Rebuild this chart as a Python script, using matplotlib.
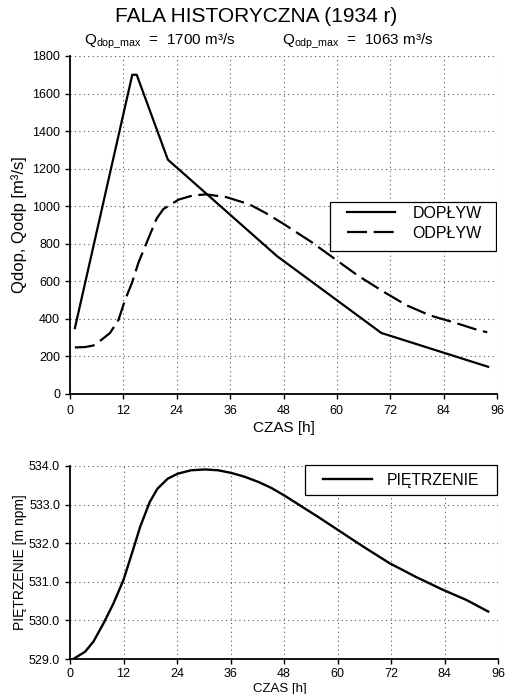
import numpy as np
import matplotlib
matplotlib.use("Agg")
import matplotlib.pyplot as plt
from matplotlib.patches import Rectangle
from matplotlib.ticker import FormatStrFormatter

plt.rcParams['font.family'] = ['Liberation Sans', 'DejaVu Sans']
plt.rcParams['mathtext.fontset'] = 'custom'
plt.rcParams['mathtext.rm'] = 'Liberation Sans'
plt.rcParams['mathtext.it'] = 'Liberation Sans'

# inflow hydrograph (DOPLYW)
t_dop = [1.1, 14, 15, 22, 46.5, 70, 94]
q_dop = [351, 1700, 1700, 1248, 735, 325, 145]

# outflow hydrograph (ODPLYW)
t_odp = [1.1, 3.4, 5.25, 7.1, 9.0, 10.9, 12.4, 13.9, 15.4, 18, 19.5, 21, 24.4,
         27.7, 30.7, 35.2, 39, 40.9, 43.9, 48, 54.3, 59.5, 64.7, 70.6, 75.8,
         81.0, 86.2, 92.2, 93.8]
q_odp = [248, 250, 258, 289, 325, 395, 502, 590, 700, 850, 935, 985, 1035,
         1058, 1063, 1048, 1020, 1003, 965, 906, 809, 720, 631, 543, 471,
         418, 382, 337, 329]

# water level (PIETRZENIE)
t_h = [0.75, 3.4, 5.25, 7.5, 9.75, 12.0, 13.9, 15.75, 17.9, 19.6, 21.9, 24.15,
       27.2, 30.2, 33.2, 36.2, 39.2, 42.2, 45.2, 48.3, 51.3, 55.8, 60.0, 65.8,
       71.7, 77.7, 83.7, 88.9, 93.8]
h = [529.0, 529.19, 529.45, 529.92, 530.44, 531.05, 531.74, 532.43, 533.07,
     533.41, 533.67, 533.80, 533.89, 533.91, 533.89, 533.82, 533.72, 533.59,
     533.43, 533.22, 533.0, 532.67, 532.35, 531.91, 531.48, 531.12,
     530.79, 530.53, 530.23]

xticks = np.arange(0, 97, 12)

W, H = 513, 694
fig = plt.figure(figsize=(W / 100, H / 100), dpi=100)


def style(ax):
    ax.spines['top'].set_visible(False)
    ax.spines['right'].set_visible(False)
    ax.spines['left'].set_linewidth(1.3)
    ax.spines['bottom'].set_linewidth(1.3)
    ax.grid(True, linestyle=(0, (1, 3)), color='#555555', linewidth=0.8)
    ax.tick_params(direction='out', length=3.6, width=1, colors='black',
                   pad=3.5, labelsize=9)
    ax.set_xlim(0, 96)
    ax.set_xticks(xticks)


# ---- top chart
ax1 = fig.add_axes([70 / W, 1 - 394 / H, 427 / W, 338 / H])
style(ax1)
ax1.plot(t_dop, q_dop, 'k-', lw=1.6, solid_joinstyle='round', label='DOPŁYW')
ax1.plot(t_odp, q_odp, 'k', lw=1.6, linestyle=(0, (9, 3)),
         dash_joinstyle='round', label='ODPŁYW')
ax1.set_ylim(0, 1800)
ax1.set_yticks(np.arange(0, 1801, 200))
ax1.tick_params(axis='x', pad=4.5)
ax1.set_xlabel('CZAS [h]', fontsize=11, labelpad=3)
ax1.set_ylabel('Qdop, Qodp [m³/s]', fontsize=12, labelpad=4)
ax1.add_patch(Rectangle((0.609, 0.424), 0.389, 0.145, transform=ax1.transAxes,
                        facecolor='white', edgecolor='black', lw=0.9,
                        zorder=4))
leg = ax1.legend(loc='upper left', bbox_to_anchor=(0.649, 0.557),
                 fontsize=11.5, frameon=False, handlelength=3.0,
                 handletextpad=1.1, borderpad=0, borderaxespad=0,
                 labelspacing=0.3)
leg.set_zorder(5)

fig.text(256 / W, 1 - 22 / H, 'FALA HISTORYCZNA (1934 r)', ha='center',
         va='baseline', fontsize=15)
fig.text(160 / W, 1 - 45 / H, r'Q$_{\mathrm{dop\_max}}$  =  1700 m³/s',
         ha='center', va='baseline', fontsize=11)
fig.text(358 / W, 1 - 45 / H, r'Q$_{\mathrm{odp\_max}}$  =  1063 m³/s',
         ha='center', va='baseline', fontsize=11)

# ---- bottom chart
ax2 = fig.add_axes([70 / W, 1 - 659 / H, 428 / W, 193 / H])
style(ax2)
ax2.plot(t_h, h, 'k-', lw=1.7, solid_joinstyle='round', label='PIĘTRZENIE')
ax2.set_ylim(529, 534)
ax2.set_yticks(np.arange(529, 534.1, 1))
ax2.yaxis.set_major_formatter(FormatStrFormatter('%.1f'))
ax2.tick_params(axis='x', pad=3)
ax2.set_xlabel('CZAS [h]', fontsize=9.5)
ax2.xaxis.set_label_coords(0.49, -0.172)
ax2.xaxis.label.set_va('baseline')
ax2.set_ylabel('PIĘTRZENIE [m npm]', fontsize=10, labelpad=1)
ax2.add_patch(Rectangle((0.549, 0.85), 0.449, 0.155, transform=ax2.transAxes,
                        facecolor='white', edgecolor='black', lw=0.9,
                        zorder=4, clip_on=False))
leg2 = ax2.legend(loc='center left', bbox_to_anchor=(0.590, 0.927),
                  fontsize=11.3, frameon=False, handlelength=3.15,
                  handletextpad=0.97, borderpad=0, borderaxespad=0)
leg2.set_zorder(5)

fig.savefig('out.png', dpi=100)
